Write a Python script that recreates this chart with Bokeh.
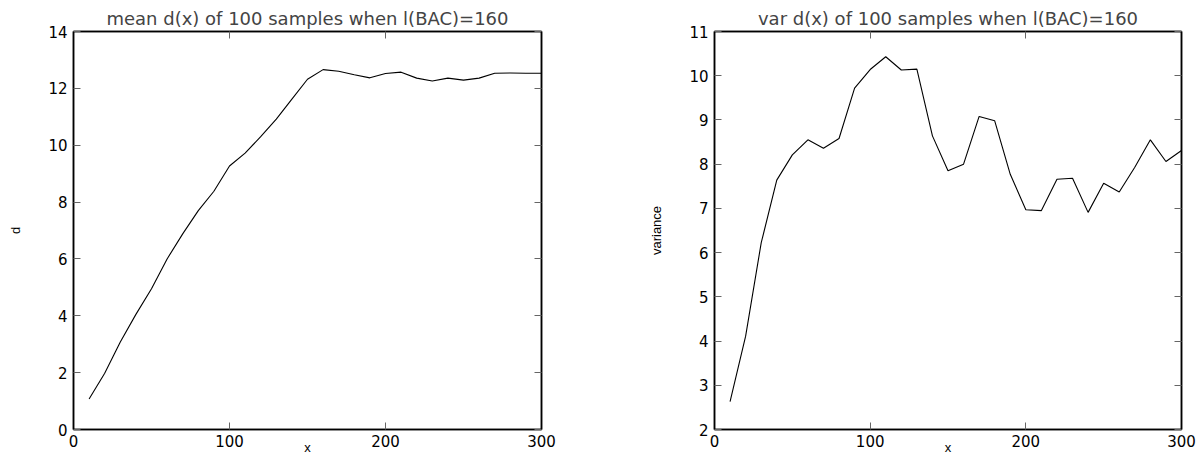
from bokeh.plotting import figure
from bokeh.layouts import row
from bokeh.models import LinearAxis, FixedTicker, Range1d
from bokeh.embed import file_html
from bokeh.resources import INLINE

x_vals = [10, 20, 30, 40, 50, 60, 70, 80, 90, 100,
          110, 120, 130, 140, 150, 160, 170, 180, 190, 200,
          210, 220, 230, 240, 250, 260, 270, 280, 290, 300]
mean_d = [1.07, 1.98, 3.08, 4.05, 4.95, 6.0, 6.88, 7.7, 8.38, 9.27,
          9.72, 10.3, 10.92, 11.62, 12.32, 12.66, 12.6, 12.48, 12.37, 12.52,
          12.57, 12.36, 12.26, 12.36, 12.29, 12.36, 12.53, 12.54, 12.53, 12.53]
var_d = [2.63, 4.11, 6.22, 7.64, 8.21, 8.55, 8.36, 8.58, 9.72, 10.14,
         10.43, 10.13, 10.15, 8.64, 7.85, 8.0, 9.08, 8.98, 7.77, 6.97,
         6.95, 7.66, 7.68, 6.91, 7.57, 7.37, 7.93, 8.55, 8.06, 8.31]

x_ticks = [0, 100, 200, 300]
left_ticks = [0, 2, 4, 6, 8, 10, 12, 14]
right_ticks = [2, 3, 4, 5, 6, 7, 8, 9, 10, 11]

FONT = "DejaVu Sans"
LABEL_FONT = "Liberation Sans"


def style_axis(ax, ticks, show_labels=True):
    ax.ticker = FixedTicker(ticks=ticks)
    ax.major_tick_in = 7
    ax.major_tick_out = 0
    ax.minor_tick_line_color = None
    ax.major_tick_line_color = "#666666"
    ax.major_tick_line_width = 1
    ax.axis_line_color = "black"
    ax.axis_line_width = 1.5
    ax.major_label_text_font = FONT
    ax.major_label_text_font_size = "15px"
    ax.major_label_text_color = "black"
    ax.axis_label_text_font = LABEL_FONT
    ax.axis_label_text_font_style = "normal"
    ax.axis_label_text_font_size = "13px"
    ax.axis_label_text_color = "black"
    if not show_labels:
        ax.major_label_text_color = None
        ax.major_label_text_font_size = "1px"
        ax.major_label_standoff = 0


def make(title, ys, yr, yticks, ylabel, w, bl, br, ylabel_standoff):
    p = figure(width=w, height=457, output_backend="svg", toolbar_location=None,
               x_range=Range1d(0, 300), y_range=Range1d(*yr),
               min_border_left=bl, min_border_right=br,
               min_border_top=31, min_border_bottom=27)
    p.title.text = title
    p.title.align = "center"
    p.title.text_font = FONT
    p.title.text_font_size = "18px"
    p.title.text_font_style = "normal"
    p.title.standoff = 6
    p.grid.visible = False
    p.outline_line_color = "black"
    p.outline_line_width = 1.5
    p.background_fill_color = "white"
    p.border_fill_color = "white"
    p.line(x_vals, ys, line_color="black", line_width=1.1)

    style_axis(p.xaxis[0], x_ticks)
    p.xaxis[0].axis_label = "x"
    p.xaxis[0].axis_label_standoff = -10
    p.xaxis[0].major_label_standoff = 5
    style_axis(p.yaxis[0], yticks)
    p.yaxis[0].axis_label = ylabel
    p.yaxis[0].axis_label_standoff = ylabel_standoff
    p.yaxis[0].major_label_standoff = 6

    top = LinearAxis()
    style_axis(top, x_ticks, show_labels=False)
    p.add_layout(top, "above")
    right = LinearAxis()
    style_axis(right, yticks, show_labels=False)
    p.add_layout(right, "right")
    return p


p1 = make("mean d(x) of 100 samples when l(BAC)=160", mean_d, (0, 14), left_ticks,
          "d", 600, 73, 59, 22)
p2 = make("var d(x) of 100 samples when l(BAC)=160", var_d, (2, 11), right_ticks,
          "variance", 601, 114, 20, 22)

layout = row(p1, p2, spacing=0)
open("out.html", "w").write(file_html(layout, INLINE))
